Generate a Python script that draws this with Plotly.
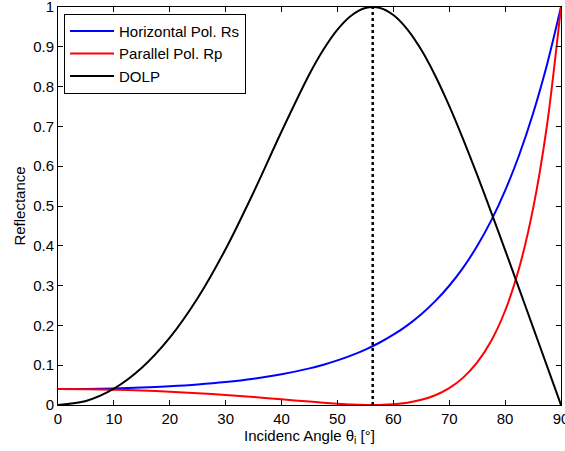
import plotly.graph_objects as go

# Incidence angles (degrees) and reflectance values
angle = [0, 5, 10, 15, 20, 25, 30, 35, 40, 45, 47.5, 50, 52.5, 55, 57.5, 60, 62.5, 65,
         67.5, 70, 72.5, 75, 77.5, 80, 82.5, 85, 87.5, 90]
rs = [0.0400, 0.0404, 0.0417, 0.0438, 0.0471, 0.0516, 0.0578, 0.0661, 0.0772, 0.0920,
      0.1013, 0.1120, 0.1246, 0.1393, 0.1564, 0.1766, 0.2002, 0.2281,
      0.2609, 0.2996, 0.3453, 0.3994, 0.4632, 0.5386, 0.6276, 0.7323, 0.8555, 1.0000]
rp = [0.0400, 0.0396, 0.0384, 0.0363, 0.0335, 0.0297, 0.0252, 0.0200, 0.0143, 0.0085,
      0.0057, 0.0033, 0.0013, 0.0002, 0.0002, 0.0018, 0.0058, 0.0130,
      0.0246, 0.0425, 0.0688, 0.1068, 0.1607, 0.2368, 0.3436, 0.4933, 0.7034, 1.0000]
dolp = [0.0000, 0.0102, 0.0411, 0.0937, 0.1692, 0.2688, 0.3919, 0.5346, 0.6871, 0.8315,
        0.8931, 0.9432, 0.9787, 0.9974, 0.9979, 0.9798, 0.9440, 0.8924,
        0.8274, 0.7516, 0.6677, 0.5781, 0.4848, 0.3892, 0.2924, 0.1951, 0.0976, 0.0000]
brewster_x = [56.31, 56.31]
brewster_y = [0, 1]

x_ticks = [0, 10, 20, 30, 40, 50, 60, 70, 80, 90]
y_ticks = [0, 0.1, 0.2, 0.3, 0.4, 0.5, 0.6, 0.7, 0.8, 0.9, 1]
y_tick_text = ["0", "0.1", "0.2", "0.3", "0.4", "0.5", "0.6", "0.7", "0.8", "0.9", "1"]

font = "Liberation Sans, Arial, Helvetica, sans-serif"
fs = 15

fig = go.Figure()
fig.add_trace(go.Scatter(x=angle, y=rs, mode="lines", name="Horizontal Pol. Rs",
                         line=dict(color="#0000ff", width=2, shape="spline", smoothing=0.8)))
fig.add_trace(go.Scatter(x=angle, y=rp, mode="lines", name="Parallel Pol. Rp",
                         line=dict(color="#ff0000", width=2, shape="spline", smoothing=0.8)))
fig.add_trace(go.Scatter(x=angle, y=dolp, mode="lines", name="DOLP",
                         line=dict(color="#000000", width=2, shape="spline", smoothing=0.8)))
fig.add_trace(go.Scatter(x=brewster_x, y=brewster_y, mode="lines", showlegend=False,
                         line=dict(color="#000000", width=2.5, dash="3px,3px")))

axis_common = dict(showgrid=False, zeroline=False, showline=True, linecolor="black", linewidth=1,
                   mirror="ticks", ticks="inside", ticklen=5, tickcolor="black",
                   automargin=False, ticklabeloverflow="allow",
                   tickfont=dict(family=font, size=fs, color="black"))

fig.update_layout(
    width=565, height=451,
    margin=dict(l=58, r=4, t=7, b=46, autoexpand=False),
    paper_bgcolor="white", plot_bgcolor="white",
    font=dict(family=font, size=fs, color="black"),
    xaxis=dict(range=[0, 90], tickvals=x_ticks,
               title=dict(text="Incidenc Angle θ<sub>i</sub> [°]", font=dict(size=fs), standoff=2),
               **axis_common),
    yaxis=dict(range=[0, 1], tickvals=y_ticks, ticktext=y_tick_text,
               title=dict(text="Reflectance", font=dict(size=fs), standoff=3),
               **axis_common),
    legend=dict(x=0.012, y=0.983, xanchor="left", yanchor="top", bgcolor="white",
                bordercolor="black", borderwidth=1, font=dict(family=font, size=fs),
                tracegroupgap=0, itemwidth=44),
    showlegend=True,
)

fig.write_html("out.html")
